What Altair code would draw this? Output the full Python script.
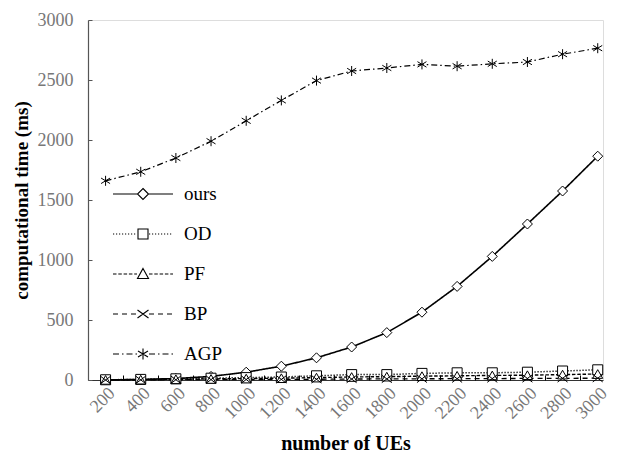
import altair as alt
import pandas as pd

ues = [200, 400, 600, 800, 1000, 1200, 1400, 1600, 1800, 2000, 2200, 2400, 2600, 2800, 3000]
series_names = ["ours", "OD", "PF", "BP", "AGP"]
ours = [0, 5, 12, 30, 65, 115, 185, 275, 395, 565, 780, 1030, 1300, 1575, 1865]
od = [2, 5, 10, 15, 20, 25, 35, 45, 45, 55, 60, 60, 65, 75, 85]
pf = [1, 3, 6, 9, 12, 15, 20, 25, 28, 32, 35, 38, 40, 45, 50]
bp = [0, 1, 2, 3, 4, 5, 6, 8, 9, 10, 11, 12, 13, 14, 15]
agp = [1660, 1735, 1850, 1990, 2160, 2330, 2495, 2575, 2600, 2630, 2615, 2635, 2650, 2715, 2765]
x_ticks = [200, 400, 600, 800, 1000, 1200, 1400, 1600, 1800, 2000, 2200, 2400, 2600, 2800, 3000]
y_ticks = [0, 500, 1000, 1500, 2000, 2500, 3000]

values = {"ours": ours, "OD": od, "PF": pf, "BP": bp, "AGP": agp}
rows = []
for s in series_names:
    for u, v in zip(ues, values[s]):
        rows.append({"n": u, "t": v, "series": s})
df = pd.DataFrame(rows)

# boundaries between categories for inner tick marks
bounds = [(a + b) / 2 for a, b in zip(x_ticks[:-1], x_ticks[1:])]

W, H = 515, 360
FONT = "Liberation Serif"

# ---- legend symbol paths (unit = 10px), line with marker in the middle
U = 10.0
def dashed(x0, x1, pattern):
    segs = []
    if not pattern:
        return f"M{x0:.3f},0L{x1:.3f},0"
    x = x0
    i = 0
    while x < x1 - 1e-6:
        L = pattern[i % len(pattern)] / U
        if i % 2 == 0:
            e = min(x + L, x1)
            segs.append(f"M{x:.3f},0L{e:.3f},0")
        x += L
        i += 1
    return "".join(segs)

markers = {
    "ours": "M0,-0.55L0.55,0L0,0.55L-0.55,0Z",
    "OD": "M-0.5,-0.5L0.5,-0.5L0.5,0.5L-0.5,0.5Z",
    "PF": "M0,-0.55L0.55,0.45L-0.55,0.45Z",
    "BP": "M-0.55,-0.4L0.55,0.4M-0.55,0.4L0.55,-0.4",
    "AGP": "M0,-0.55L0,0.55M-0.5,-0.3L0.5,0.3M-0.5,0.3L0.5,-0.3",
}
patterns = {"ours": [], "OD": [1.2, 1.8], "PF": [3.5, 1.8], "BP": [5, 4], "AGP": [6, 3, 1.5, 3]}
legend_paths = []
for s in series_names:
    p = dashed(-3.0, -0.6, patterns[s]) + dashed(0.6, 3.0, patterns[s]) + markers[s]
    legend_paths.append(p)

chart_shapes = [
    "diamond",
    "square",
    "triangle-up",
    "M-1,-0.75L1,0.75M-1,0.75L1,-0.75",
    "M0,-1L0,1M-0.9,-0.55L0.9,0.55M-0.9,0.55L0.9,-0.55",
]
dashes = [[1, 0], [1.2, 1.8], [3.5, 1.8], [5, 4], [6, 3, 1.5, 3]]
widths = [1.6, 1.2, 1.2, 1.2, 1.3]

xscale = alt.Scale(domain=[100, 3030], nice=False, zero=False)
yscale = alt.Scale(domain=[0, 3000], nice=False)

lines = alt.Chart(df).mark_line(color="black").encode(
    x=alt.X("n:Q", scale=xscale, axis=alt.Axis(
        orient="bottom", values=x_ticks, format="d", labelAngle=-45, ticks=False,
        labelColor="#777777", labelFont=FONT, labelFontSize=18, grid=False,
        domainColor="#333333", domainWidth=1.2, labelPadding=4,
        title="number of UEs", titleFont=FONT, titleFontSize=20, titleFontWeight="bold",
        titleColor="black", titlePadding=11, labelFlush=False, labelOverlap=False)),
    y=alt.Y("t:Q", scale=yscale, axis=alt.Axis(
        orient="left", values=y_ticks, format="d", ticks=False, grid=False,
        labelColor="#777777", labelFont=FONT, labelFontSize=18, labelPadding=15,
        domainColor="#555555", domainWidth=1.2,
        title="computational time (ms)", titleFont=FONT, titleFontSize=19,
        titleFontWeight="bold", titleColor="black", titlePadding=6)),
    strokeDash=alt.StrokeDash("series:N", scale=alt.Scale(domain=series_names, range=dashes), legend=None),
    strokeWidth=alt.StrokeWidth("series:N", scale=alt.Scale(domain=series_names, range=widths), legend=None),
    detail="series:N",
)

points = alt.Chart(df).mark_point(fill="white", stroke="black", strokeWidth=1, opacity=1, filled=False, fillOpacity=1, size=100).encode(
    x=alt.X("n:Q", scale=xscale, axis=None),
    y=alt.Y("t:Q", scale=yscale, axis=None),
    shape=alt.Shape("series:N", scale=alt.Scale(domain=series_names, range=chart_shapes), legend=None),
)

leg = alt.Chart(df).mark_point(opacity=0).encode(
    x=alt.X("n:Q", scale=xscale, axis=alt.Axis(
        orient="top", offset=-H, values=bounds, labels=False, domain=False, grid=False,
        ticks=True, tickSize=5, tickColor="black", tickWidth=1, title=None)),
    y=alt.Y("t:Q", scale=yscale, axis=alt.Axis(
        orient="right", offset=-W, values=y_ticks, labels=False, domain=False, grid=False,
        ticks=True, tickSize=4, tickColor="#555555", tickWidth=1, title=None)),
    shape=alt.Shape("series:N", scale=alt.Scale(domain=series_names, range=legend_paths),
        legend=alt.Legend(
            title=None, orient="none", legendX=44, legendY=163,
            symbolSize=400, symbolOpacity=1, symbolFillColor="white",
            symbolStrokeColor="black", symbolStrokeWidth=1.1,
            labelFont=FONT, labelFontSize=19, labelColor="black", labelOffset=30,
            rowPadding=19, labelLimit=200)),
)

chart = alt.layer(lines, points, leg).resolve_scale(
    shape="independent"
).resolve_axis(
    x="independent", y="independent"
).properties(
    width=W, height=H,
    autosize=alt.AutoSizeParams(type="none"),
    padding={"left": 80, "top": 12, "right": 8, "bottom": 74},
).configure_view(stroke=None).configure_axis(
    labelFont=FONT, titleFont=FONT
).configure_legend(labelFont=FONT).configure(background="white")

chart.save("out.html", embed_options={"renderer": "svg", "actions": False})
